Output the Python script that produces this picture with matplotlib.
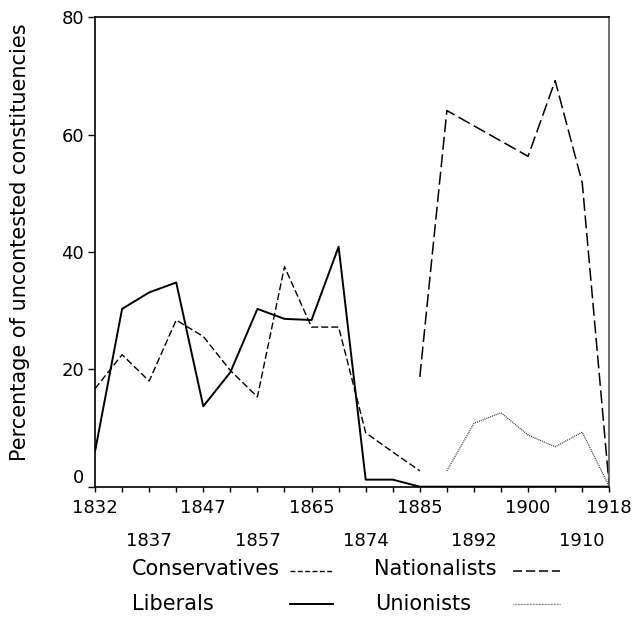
import numpy as np
import matplotlib
matplotlib.use('Agg')
import matplotlib.pyplot as plt
from matplotlib.lines import Line2D

nan = np.nan

# elecciones (eje x categórico)
elecciones = ['1832', '1835', '1837', '1841', '1847', '1852', '1857', '1859', '1865', '1868',
              '1874', '1880', '1885', '1886', '1892', '1895', '1900', '1906', '1910', '1918']
etiquetas_arriba = ['1832', '1847', '1865', '1885', '1900', '1918']
etiquetas_abajo = ['1837', '1857', '1874', '1892', '1910']

# porcentaje de circunscripciones sin disputa
liberales = [6.0, 30.3, 33.1, 34.8, 13.7, 19.5, 30.3, 28.6, 28.4, 40.9,
             1.2, 1.2, 0, 0, 0, 0, 0, 0, 0, 0]
conservadores = [16.7, 22.5, 18.0, 28.4, 25.6, 19.8, 15.3, 37.5, 27.2, 27.2,
                 9.2, 5.9, 2.7, nan, nan, nan, nan, nan, nan, nan]
nacionalistas = [nan, nan, nan, nan, nan, nan, nan, nan, nan, nan,
                 nan, nan, 18.7, 64.1, 61.5, 58.9, 56.3, 69.2, 51.8, 0]
unionistas = [nan, nan, nan, nan, nan, nan, nan, nan, nan, nan,
              nan, nan, nan, 2.7, 10.8, 12.6, 8.8, 6.8, 9.3, 0]

plt.rcParams['font.family'] = ['DejaVu Sans']

fig = plt.figure(figsize=(6.39, 6.23), dpi=100)
ax = fig.add_axes([0.1487, 0.2188, 0.8048, 0.7535])

x = np.arange(len(elecciones))
estilo_cons = (0, (5, 2.2))
estilo_nac = (0, (8.5, 3))
estilo_uni = (0, (0.8, 0.8))

ax.plot(x, liberales, color='black', lw=1.4)
ax.plot(x, conservadores, color='black', lw=1.0, linestyle=estilo_cons)
ax.plot(x, nacionalistas, color='black', lw=1.1, linestyle=estilo_nac)
ax.plot(x, unionistas, color='#333333', lw=0.9, linestyle=estilo_uni)

ax.set_xlim(0, len(elecciones) - 1)
ax.set_ylim(0, 80)

# fila de arriba en ticks mayores, fila de abajo en ticks menores
mayores = [i for i, e in enumerate(elecciones) if e in etiquetas_arriba]
menores = [i for i, e in enumerate(elecciones) if e not in etiquetas_arriba]
ax.set_xticks(mayores)
ax.set_xticklabels([elecciones[i] for i in mayores], fontsize=13)
ax.set_xticks(menores, minor=True)
ax.set_xticklabels([elecciones[i] if elecciones[i] in etiquetas_abajo else '' for i in menores],
                   minor=True, fontsize=13)

ax.set_yticks([0, 20, 40, 60, 80])
ax.set_yticklabels(['0', '20', '40', '60', '80'], fontsize=13)
ax.get_yticklabels()[0].set_va('bottom')

ax.tick_params(axis='x', which='both', direction='out', length=3.8, width=1)
ax.tick_params(axis='x', which='major', pad=5)
ax.tick_params(axis='x', which='minor', pad=29)
ax.tick_params(axis='y', direction='out', length=5, width=1, pad=3)
for s in ax.spines.values():
    s.set_linewidth(1.2)
ax.spines['right'].set_color('#555555')

ax.set_ylabel('Percentage of uncontested constituencies', fontsize=15)
ax.yaxis.set_label_coords(-0.126, 0.52)

# leyenda manual en dos columnas
fila1, fila2 = 0.077, 0.021
linea1, linea2 = 0.084, 0.031
fig.text(0.206, fila1, 'Conservatives', fontsize=15, va='baseline')
fig.text(0.585, fila1, 'Nationalists', fontsize=15, va='baseline')
fig.text(0.206, fila2, 'Liberals', fontsize=15, va='baseline')
fig.text(0.587, fila2, 'Unionists', fontsize=15, va='baseline')
fig.add_artist(Line2D([0.454, 0.521], [linea1, linea1], transform=fig.transFigure,
                      color='black', lw=1.0, linestyle=(0, (3.5, 1.8))))
fig.add_artist(Line2D([0.803, 0.876], [linea1, linea1], transform=fig.transFigure,
                      color='black', lw=1.1, linestyle=(0, (6, 2.5))))
fig.add_artist(Line2D([0.454, 0.521], [linea2, linea2], transform=fig.transFigure,
                      color='black', lw=1.4))
fig.add_artist(Line2D([0.803, 0.876], [linea2, linea2], transform=fig.transFigure,
                      color='#555555', lw=0.9, linestyle=(0, (0.6, 0.6))))

fig.savefig('out.png', dpi=100)
